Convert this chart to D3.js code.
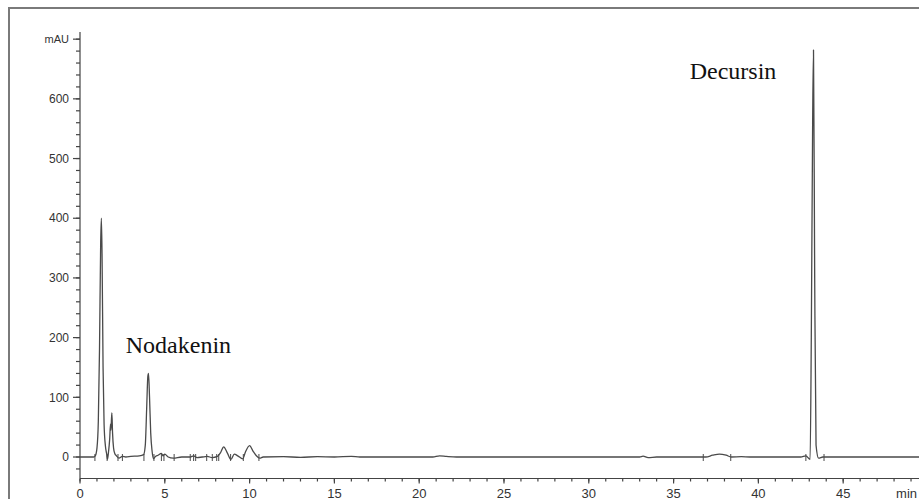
<!DOCTYPE html>
<html>
<head>
<meta charset="utf-8">
<script src="https://cdn.jsdelivr.net/npm/d3@7"></script>
<style>
  html, body { margin: 0; padding: 0; background: #fff; overflow: hidden; }
  svg { display: block; }
</style>
</head>
<body>
<svg id="chart" width="919" height="499"></svg>
<script>
// HPLC chromatogram: retention time (min) vs. absorbance (mAU)
const retentionTime = [
  0, 0.5, 0.8, 0.9, 1.0, 1.08, 1.15, 1.22, 1.26, 1.30, 1.36, 1.42, 1.5, 1.58, 1.62,
  1.68, 1.75, 1.8, 1.82, 1.85, 1.88, 1.92, 1.98, 2.05, 2.15, 2.3, 2.5, 2.7, 3.0, 3.5,
  3.75, 3.85, 3.93, 4.0, 4.04, 4.1, 4.17, 4.25, 4.33, 4.45, 4.6, 4.8, 4.9, 5.0, 5.2,
  5.5, 6.0, 6.5, 6.7, 6.9, 7.2, 7.5, 7.8, 8.1, 8.3, 8.47, 8.7, 8.9, 9.1, 9.3,
  9.6, 9.75, 10.0, 10.2, 10.4, 10.6, 10.8, 12.0, 13.0, 14.0, 15.0, 16.0, 16.5, 20.8,
  21.2, 21.6, 22.2, 33.0, 33.2, 33.5, 34.0, 36.9, 37.3, 37.7, 38.1, 38.4, 39.0, 39.5,
  42.5, 42.8, 43.05, 43.12, 43.2, 43.25, 43.32, 43.4, 43.55, 43.8, 49.5
];
const absorbance = [
  0, 0, 0, 2, 15, 60, 180, 360, 400, 340, 150, 55, 18, 4, -4,
  8, 30, 55, 45, 60, 74, 40, 15, 6, 2, -2, 1, 0, 1, 2,
  4, 20, 80, 135, 140, 100, 40, 10, -3, 1, 3, 6, 2, 5, 0,
  -2, 0, 0, 2, -1, 0, 1, -1, 1, 8, 17, 6, -4, 5, 2,
  -3, 8, 19, 10, 2, -2, 0, 0.5, -0.5, 0.5, 0, 1, 0, 0,
  2, 1, 0, 0, 1.5, -1, 0, 0, 3, 5, 3, 0, 0.5, 0,
  0, 2, -4, 200, 564, 682, 300, 20, -2, 0, 0
];
// integration event marks along the baseline
const eventTimes = [0.88, 1.6, 2.24, 2.5, 3.77, 4.36, 4.8, 4.95, 5.55, 6.5, 6.7, 6.82,
  7.47, 7.8, 8.06, 8.18, 8.88, 9.63, 10.55, 36.75, 38.37, 42.8, 43.87];

const peakNames = ["Nodakenin", "Decursin"];
const peakLabelTime = [2.7, 35.95];
const peakLabelValue = [175, 633];

const yTicks = [0, 100, 200, 300, 400, 500, 600, 700];
const xTicks = [0, 5, 10, 15, 20, 25, 30, 35, 40, 45];

const svg = d3.select("#chart");
const x = d3.scaleLinear().domain([0, 49.5]).range([80, 919.5]);
const y = d3.scaleLinear().domain([-36, 712]).range([478.5, 32]);

// outer frame
svg.append("rect")
  .attr("x", 9).attr("y", 8).attr("width", 940).attr("height", 520)
  .attr("fill", "none").attr("stroke", "#7a7a7a").attr("stroke-width", 2);

// y axis
const yAxis = svg.append("g").attr("transform", `translate(${x(0)},0)`);
yAxis.append("line").attr("x1", 0).attr("x2", 0)
  .attr("y1", y(712)).attr("y2", y(-36)).attr("stroke", "#444").attr("stroke-width", 1.2);
yAxis.selectAll(".ymin").data(d3.range(-20, 701, 20)).join("line")
  .attr("x1", -4).attr("x2", 0).attr("y1", d => y(d)).attr("y2", d => y(d))
  .attr("stroke", "#444").attr("stroke-width", 1.2);
yAxis.selectAll(".ymaj").data(yTicks).join("line")
  .attr("x1", -7).attr("x2", 0).attr("y1", d => y(d)).attr("y2", d => y(d))
  .attr("stroke", "#444").attr("stroke-width", 1.2);
yAxis.selectAll("text").data(yTicks).join("text")
  .attr("x", -11).attr("y", d => y(d)).attr("dy", "0.35em")
  .attr("text-anchor", "end")
  .attr("font-family", "Liberation Sans, Arial, sans-serif")
  .attr("font-size", d => d === 700 ? 11 : 12)
  .attr("fill", "#333")
  .text(d => d === 700 ? "mAU" : d);

// x axis
const xAxis = svg.append("g").attr("transform", `translate(0,${y(-36)})`);
xAxis.append("line").attr("x1", x(0)).attr("x2", 919)
  .attr("y1", 0).attr("y2", 0).attr("stroke", "#444").attr("stroke-width", 1.2);
xAxis.selectAll(".xmin").data(d3.range(0, 50, 1)).join("line")
  .attr("x1", d => x(d)).attr("x2", d => x(d)).attr("y1", 0).attr("y2", 3)
  .attr("stroke", "#444").attr("stroke-width", 1.2);
xAxis.selectAll(".xmaj").data(xTicks).join("line")
  .attr("x1", d => x(d)).attr("x2", d => x(d)).attr("y1", 0).attr("y2", 5)
  .attr("stroke", "#444").attr("stroke-width", 1.2);
xAxis.selectAll("text").data(xTicks).join("text")
  .attr("x", d => x(d)).attr("y", 19)
  .attr("text-anchor", "middle")
  .attr("font-family", "Liberation Sans, Arial, sans-serif")
  .attr("font-size", 13).attr("fill", "#333")
  .text(d => d);
// axis unit at the right end
xAxis.append("text").attr("x", 917).attr("y", 19)
  .attr("text-anchor", "end")
  .attr("font-family", "Liberation Sans, Arial, sans-serif")
  .attr("font-size", 13).attr("fill", "#333").text("min");

// trace
const points = retentionTime.map((t, i) => [t, absorbance[i]]);
svg.append("path").datum(points)
  .attr("fill", "none").attr("stroke", "#4a4a4a").attr("stroke-width", 1.3)
  .attr("stroke-linejoin", "round")
  .attr("d", d3.line().x(d => x(d[0])).y(d => y(d[1])).curve(d3.curveMonotoneX));

// event marks
svg.selectAll(".evt").data(eventTimes).join("line")
  .attr("x1", d => x(d)).attr("x2", d => x(d))
  .attr("y1", y(0) - 3).attr("y2", y(0) + 4)
  .attr("stroke", "#4a4a4a").attr("stroke-width", 1);

// peak names
svg.selectAll(".peak").data(peakNames).join("text")
  .attr("x", (d, i) => x(peakLabelTime[i])).attr("y", (d, i) => y(peakLabelValue[i]))
  .attr("font-family", "Liberation Serif, Times New Roman, serif")
  .attr("font-size", 24).attr("fill", "#111")
  .text(d => d);
</script>
</body>
</html>
